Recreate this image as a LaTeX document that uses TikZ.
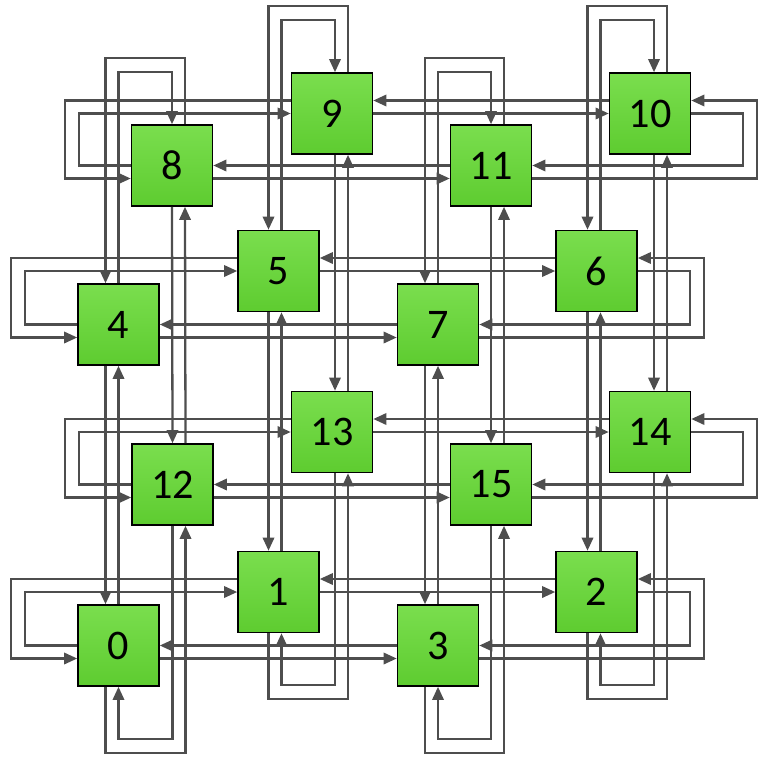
\documentclass[tikz,border=0pt]{standalone}
\usepackage{fontspec}
\setmainfont{Carlito}
\usepackage{xcolor}
\usetikzlibrary{arrows.meta,calc}

\definecolor{linkgray}{RGB}{78,78,78}
\definecolor{boxtop}{RGB}{122,222,78}
\definecolor{boxbot}{RGB}{94,204,48}

\begin{document}
\begin{tikzpicture}[x=0.02cm, y=-0.02cm, >={Triangle[length=7.5pt,width=6.5pt]},
  router/.style={draw=black, line width=0.9pt, top color=boxtop, bottom color=boxbot,
    minimum size=1.62cm, inner sep=0pt, font=\fontsize{24}{28}\selectfont},
  link/.style={->, draw=linkgray, line width=1.3pt}]
% Frame
\path[fill=white, use as bounding box] (0,0) rectangle (759,757);

% Routers, bottom group
\node[router] (n0) at (118.5,645.5) {0};
\node[router] (n1) at (278.5,592) {1};
\node[router] (n3) at (438,645.5) {3};
\node[router] (n2) at (596.5,592) {2};

% Routers, second group
\node[router] (n12) at (172.5,484.5) {12};
\node[router] (n13) at (332,432) {13};
\node[router] (n15) at (491,484.5) {15};
\node[router] (n14) at (650,432) {14};

% Routers, third group
\node[router] (n4) at (118.5,324.5) {4};
\node[router] (n5) at (278.5,271) {5};
\node[router] (n7) at (438,324.5) {7};
\node[router] (n6) at (596.5,271) {6};

% Routers, top group
\node[router] (n8) at (172,165.5) {8};
\node[router] (n9) at (332,113.5) {9};
\node[router] (n11) at (491,165.5) {11};
\node[router] (n10) at (650,113.5) {10};

% Row links (lower left / upper left / lower right / upper right)
\foreach \l/\u/\r/\v in {0/1/3/2, 12/13/15/14, 4/5/7/6, 8/9/11/10} {
  \draw[link] (n\l.west) -- ++(-52,0) |- (n\u.west);
  \draw[link] ($(n\u.west)+(0,-13)$) -| ($(n\l.west)+(-66,13)$) -- ($(n\l.west)+(0,13)$);
  \draw[link] ($(n\l.east)+(0,13)$) -- ($(n\r.west)+(0,13)$);
  \draw[link] (n\r.west) -- (n\l.east);
  \draw[link] (n\u.east) -- (n\v.west);
  \draw[link] ($(n\v.west)+(0,-13)$) -- ($(n\u.east)+(0,-13)$);
  \draw[link] ($(n\r.east)+(0,13)$) -| ($(n\v.east)+(66,-13)$) -- ($(n\v.east)+(0,-13)$);
  \draw[link] (n\v.east) -- ++(52,0) |- (n\r.east);
}

% Column links (bottom / second / third / top, with lane shift)
\foreach \p/\q/\s/\t/\d in {0/12/4/8/0, 1/13/5/9/3, 3/15/7/11/0, 2/14/6/10/4} {
  \draw[link] ($(n\p.south)+(\d-13,0)$) -- ++(0,66) -| ($(n\q.south)+(\d+13,0)$);
  \draw[link] ($(n\q.south)+(\d,0)$) |- ($(n\p.south)+(\d,52)$) -- ($(n\p.south)+(\d,0)$);
  \draw[link] ($(n\p.north)+(\d,0)$) -- ($(n\s.south)+(\d,0)$);
  \draw[link] ($(n\s.south)+(\d-13,0)$) -- ($(n\p.north)+(\d-13,0)$);
  \draw[link] ($(n\q.north)+(\d+13,0)$) -- ($(n\t.south)+(\d+13,0)$);
  \draw[link] ($(n\t.south)+(\d,0)$) -- ($(n\q.north)+(\d,0)$);
  \draw[link] ($(n\s.north)+(\d,0)$) |- ($(n\t.north)+(\d,-52)$) -- ($(n\t.north)+(\d,0)$);
  \draw[link] ($(n\t.north)+(\d+13,0)$) -- ++(0,-66) -| ($(n\s.north)+(\d-13,0)$);
}
\end{tikzpicture}
\end{document}
